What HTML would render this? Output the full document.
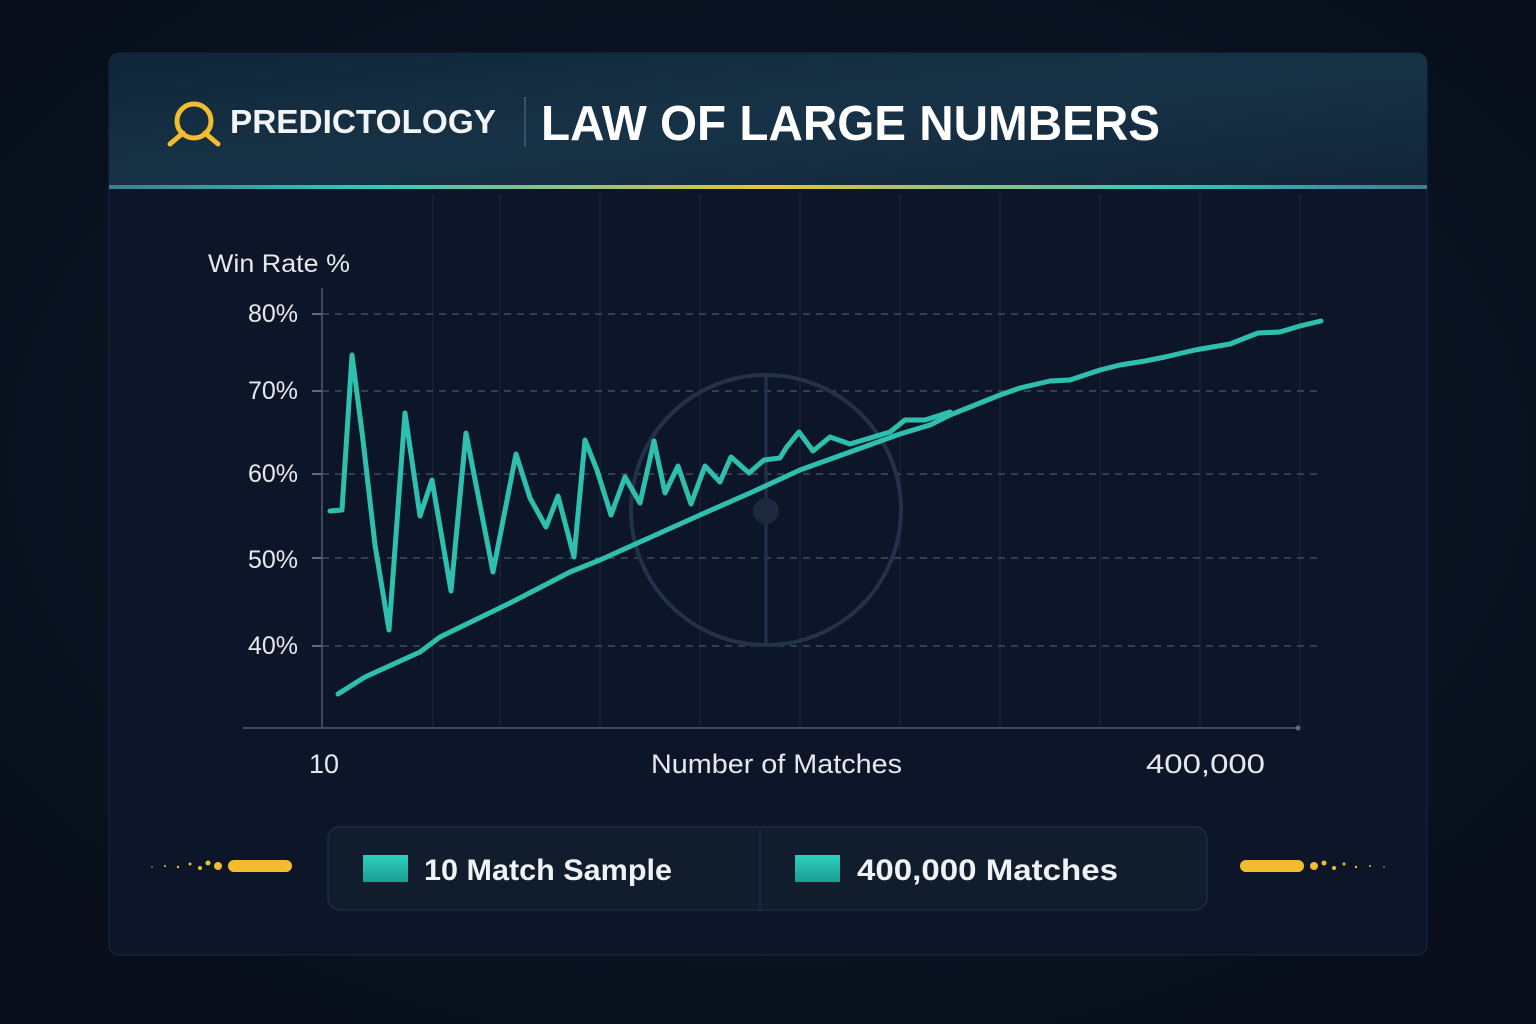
<!DOCTYPE html>
<html><head><meta charset="utf-8"><style>
html,body{margin:0;padding:0;width:1536px;height:1024px;overflow:hidden;background:#0b1322;font-family:"Liberation Sans",sans-serif;}
</style></head><body>
<svg width="1536" height="1024" viewBox="0 0 1536 1024" xmlns="http://www.w3.org/2000/svg">
<defs>
<radialGradient id="bg" cx="50%" cy="45%" r="70%"><stop offset="0" stop-color="#0f1a2e"/><stop offset="1" stop-color="#070d19"/></radialGradient>
<linearGradient id="hdr" x1="0" y1="0" x2="1" y2="1"><stop offset="0" stop-color="#10263a"/><stop offset="0.5" stop-color="#173246"/><stop offset="1" stop-color="#122538"/></linearGradient>
<linearGradient id="line" x1="0" x2="1"><stop offset="0" stop-color="#3a7f95"/><stop offset="0.2" stop-color="#36c6c2"/><stop offset="0.5" stop-color="#e8c23a"/><stop offset="0.8" stop-color="#36c6c2"/><stop offset="1" stop-color="#3a7f95"/></linearGradient>
<linearGradient id="sw" x1="0" y1="0" x2="0" y2="1"><stop offset="0" stop-color="#2fcfbd"/><stop offset="1" stop-color="#1a9e94"/></linearGradient>
</defs>
<rect width="1536" height="1024" fill="url(#bg)"/>
<rect x="109" y="53" width="1318" height="902" rx="10" fill="#0d1628" stroke="#1a2740" stroke-width="1"/>
<path d="M109 63 a10 10 0 0 1 10 -10 H1417 a10 10 0 0 1 10 10 V186 H109Z" fill="url(#hdr)"/>
<rect x="109" y="185" width="1318" height="4" fill="url(#line)"/>
<circle cx="194" cy="121" r="17" fill="none" stroke="#f4bd30" stroke-width="5"/>
<line x1="183" y1="133" x2="170" y2="144" stroke="#f4bd30" stroke-width="5" stroke-linecap="round"/>
<line x1="205" y1="133" x2="218" y2="144" stroke="#f4bd30" stroke-width="5" stroke-linecap="round"/>
<text x="230" y="133" font-size="33" font-weight="bold" fill="#f2f4f6" textLength="266" lengthAdjust="spacingAndGlyphs">PREDICTOLOGY</text>
<line x1="525" y1="97" x2="525" y2="147" stroke="#4b5d70" stroke-width="1.5"/>
<text x="541" y="140" font-size="49" font-weight="bold" fill="#ffffff" textLength="619" lengthAdjust="spacingAndGlyphs">LAW OF LARGE NUMBERS</text>
<g stroke="#1c283d" stroke-width="1">
<line x1="433" y1="195" x2="433" y2="728"/><line x1="500" y1="195" x2="500" y2="728"/><line x1="600" y1="195" x2="600" y2="728"/><line x1="700" y1="195" x2="700" y2="728"/><line x1="800" y1="195" x2="800" y2="728"/><line x1="900" y1="195" x2="900" y2="728"/><line x1="1000" y1="195" x2="1000" y2="728"/><line x1="1100" y1="195" x2="1100" y2="728"/><line x1="1200" y1="195" x2="1200" y2="728"/><line x1="1300" y1="195" x2="1300" y2="728"/>
</g>
<g stroke="#4a566a" stroke-width="1.3" stroke-dasharray="7 6">
<line x1="322" y1="314" x2="1320" y2="314"/><line x1="322" y1="391" x2="1320" y2="391"/><line x1="322" y1="474" x2="1320" y2="474"/><line x1="322" y1="558" x2="1320" y2="558"/><line x1="322" y1="646" x2="1320" y2="646"/>
</g>
<circle cx="766" cy="510" r="135" fill="none" stroke="#243249" stroke-width="4"/>
<line x1="766" y1="375" x2="766" y2="645" stroke="#243249" stroke-width="3"/>
<circle cx="766" cy="511" r="13" fill="#1c283d"/>
<line x1="322" y1="288" x2="322" y2="728" stroke="#3d4a60" stroke-width="2"/>
<line x1="243" y1="728" x2="1298" y2="728" stroke="#3d4a60" stroke-width="2"/>
<circle cx="1298" cy="728" r="2.5" fill="#5b6a80"/>
<g fill="#e5e9ee" font-size="25">
<text x="208" y="272" textLength="142" lengthAdjust="spacingAndGlyphs">Win Rate %</text>
<text x="298" y="322" text-anchor="end">80%</text><text x="298" y="399" text-anchor="end">70%</text><text x="298" y="482" text-anchor="end">60%</text><text x="298" y="568" text-anchor="end">50%</text><text x="298" y="654" text-anchor="end">40%</text>
<g stroke="#5b6a80" stroke-width="2"><line x1="312" y1="314" x2="322" y2="314"/><line x1="312" y1="391" x2="322" y2="391"/><line x1="312" y1="474" x2="322" y2="474"/><line x1="312" y1="558" x2="322" y2="558"/><line x1="312" y1="646" x2="322" y2="646"/></g>
<text x="309" y="773" font-size="27">10</text>
<text x="651" y="773" font-size="27" textLength="251" lengthAdjust="spacingAndGlyphs">Number of Matches</text>
<text x="1146" y="773" font-size="27" textLength="119" lengthAdjust="spacingAndGlyphs">400,000</text>
</g>
<g fill="none" stroke="#2fbfae" stroke-width="5" stroke-linejoin="round" stroke-linecap="round">
<polyline points="338,694 365,677 420,652 440,637 475,620 510,603 545,585 570,572 600,560 640,542 660,533 700,515 750,493 800,470 850,452 900,434 930,425 950,415 975,405 1000,395 1020,388 1050,381 1070,380 1100,370 1120,365 1145,361 1165,357 1195,350 1230,344 1258,333 1280,332 1300,326 1321,321"/>
<polyline points="330,511 342,510 352,355 363,440 375,545 389,630 405,413 420,516 432,480 451,591 466,433 493,572 516,454 530,498 546,527 558,496 574,557 585,440 597,470 611,515 625,477 640,503 654,441 665,493 678,466 691,504 705,466 720,482 731,457 749,473 764,460 780,458 786,448 799,432 813,451 830,437 850,444 870,438 890,432 905,420 925,420 950,412"/>
</g>
<rect x="328" y="827" width="879" height="83" rx="12" fill="#111c2d" stroke="#1e2b42" stroke-width="1.5"/>
<line x1="760" y1="829" x2="760" y2="908" stroke="#1e2b42" stroke-width="1.5"/>
<rect x="363" y="855" width="45" height="27" fill="url(#sw)"/>
<text x="424" y="880" font-size="30" font-weight="bold" fill="#f0f3f6" textLength="248" lengthAdjust="spacingAndGlyphs">10 Match Sample</text>
<rect x="795" y="855" width="45" height="27" fill="url(#sw)"/>
<text x="857" y="880" font-size="30" font-weight="bold" fill="#f0f3f6" textLength="261" lengthAdjust="spacingAndGlyphs">400,000 Matches</text>
<g fill="#f2bc2e">
<rect x="228" y="860" width="64" height="12" rx="6"/>
<circle cx="218" cy="866" r="4"/><circle cx="208" cy="863" r="2.5"/><circle cx="200" cy="868" r="2"/><circle cx="190" cy="864" r="1.5"/><circle cx="178" cy="867" r="1.2"/><circle cx="165" cy="866" r="1"/><circle cx="152" cy="867" r="0.8"/>
<rect x="1240" y="860" width="64" height="12" rx="6"/>
<circle cx="1314" cy="866" r="4"/><circle cx="1324" cy="863" r="2.5"/><circle cx="1334" cy="868" r="2"/><circle cx="1344" cy="864" r="1.5"/><circle cx="1356" cy="867" r="1.2"/><circle cx="1370" cy="866" r="1"/><circle cx="1384" cy="867" r="0.8"/>
</g>
</svg>
</body></html>
